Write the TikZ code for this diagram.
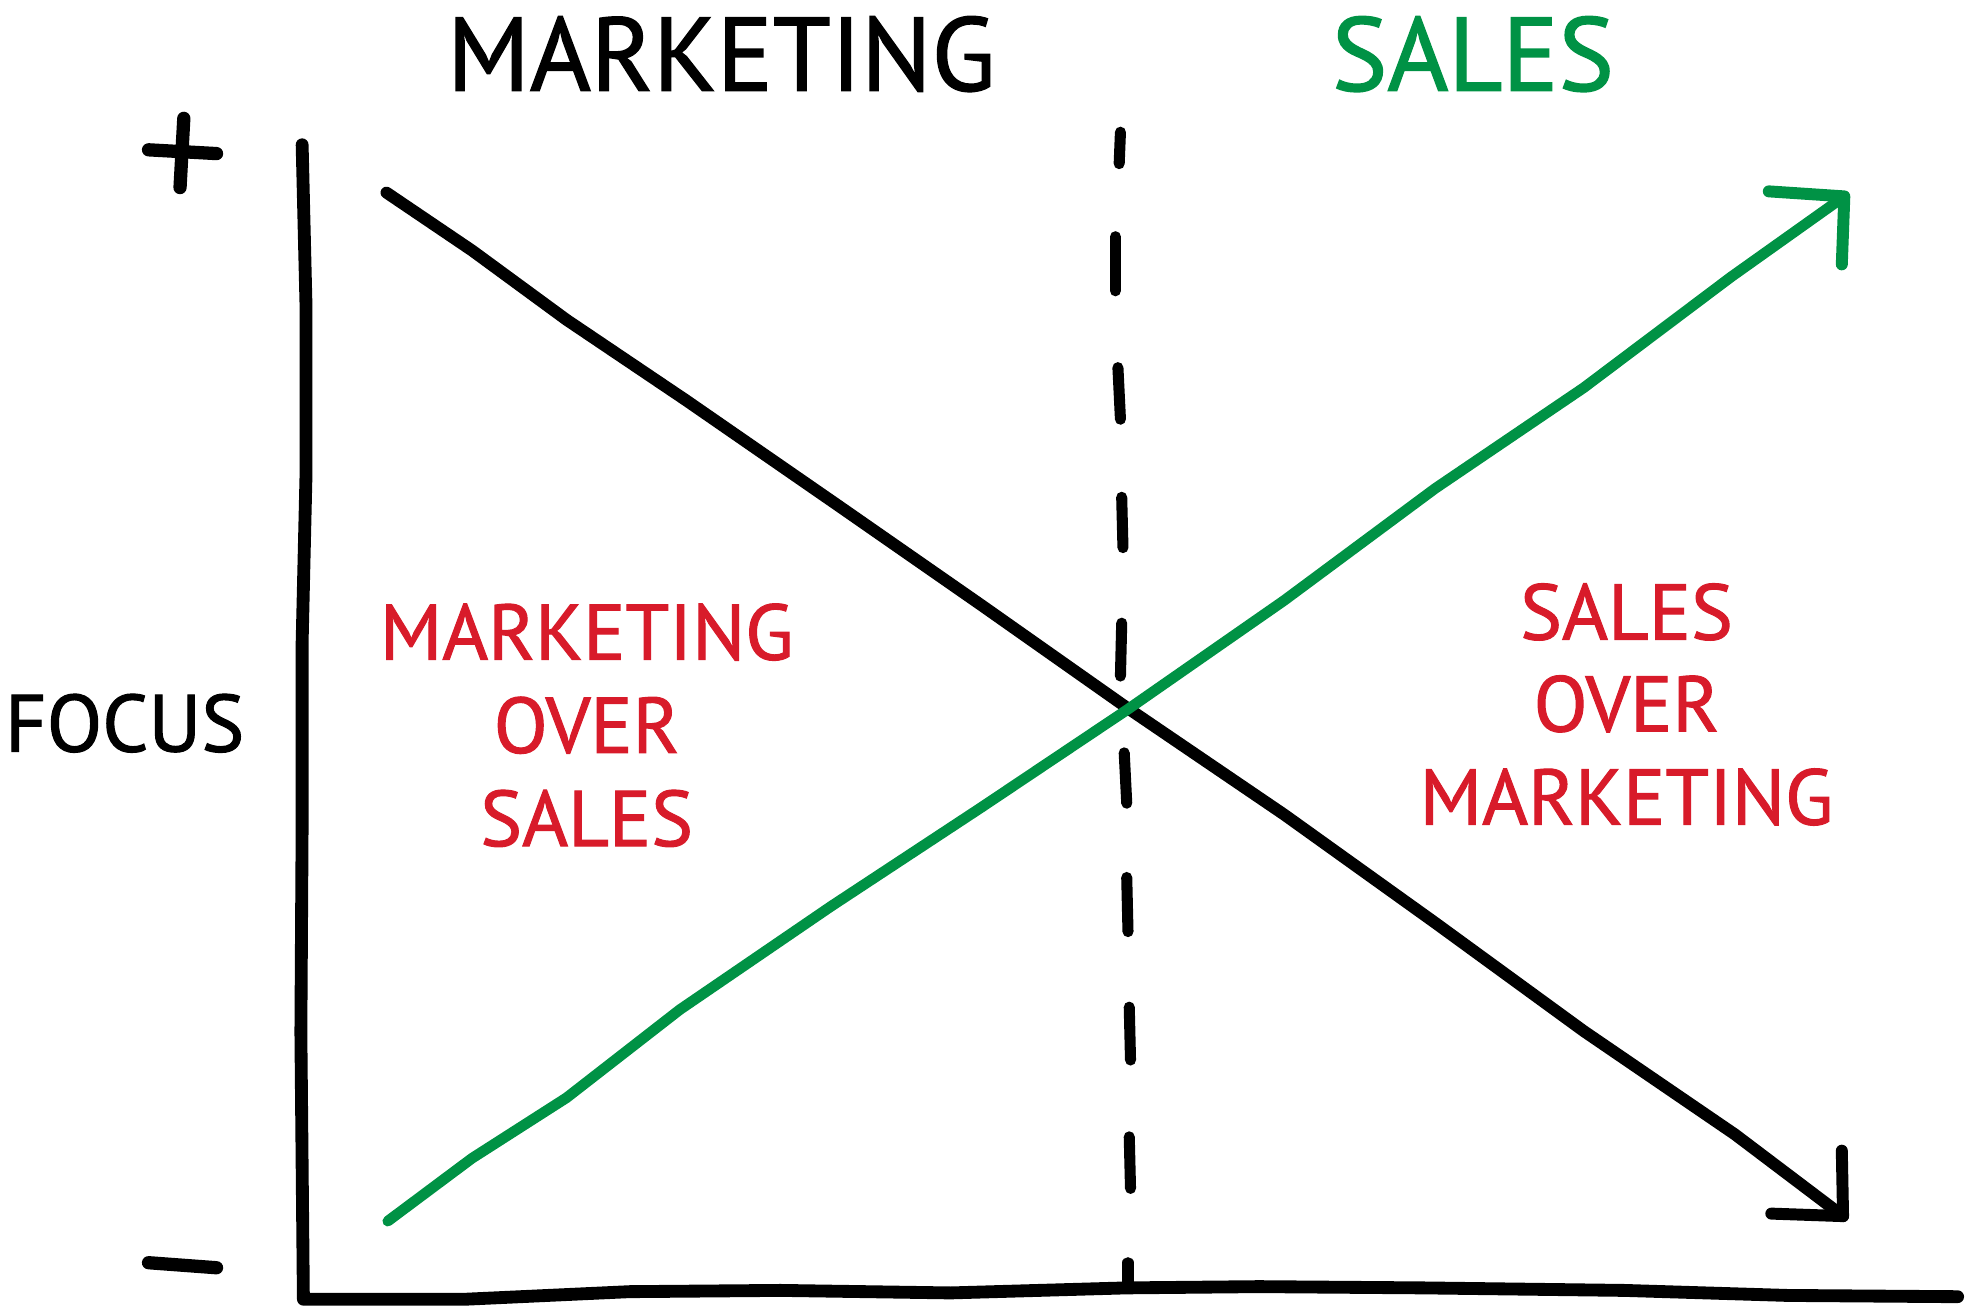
\documentclass[tikz,border=0pt]{standalone}
\usepackage{fontspec}
\setmainfont{PT Sans}[FakeBold=1.3]
\definecolor{sgreen}{RGB}{0,146,69}
\definecolor{sred}{RGB}{216,27,42}
\begin{document}
\begin{tikzpicture}[x=0.01cm,y=-0.01cm,
  stroke/.style={line width=2.7pt,line cap=round,line join=round},
  title/.style={font=\fontsize{23.6}{26}\selectfont,anchor=base,inner sep=0pt},
  axislabel/.style={font=\fontsize{18.3}{20}\selectfont,anchor=base,inner sep=0pt},
  redlabel/.style={font=\fontsize{17.8}{20}\selectfont,anchor=base,inner sep=0pt,text=sred,align=center}]
\useasboundingbox (0,0) rectangle (1568,1039);
% titles
\node[title] (tmkt) at (573,72) {MARKETING};
\node[title,text=sgreen] (tsales) at (1170,72) {SALES};
\node[axislabel] (focus) at (99,597) {FOCUS};
% red labels
\node[redlabel] (l1) at (466,524) {MARKETING};
\node[redlabel] (l2) at (466,598) {OVER};
\node[redlabel] (l3) at (466,672) {SALES};
\node[redlabel] (r1) at (1292,508) {SALES};
\node[redlabel] (r2) at (1292,581) {OVER};
\node[redlabel] (r3) at (1292,655) {MARKETING};
% plus and minus
\draw[stroke,line width=3pt] (118,119) -- (172,122);
\draw[stroke,line width=3pt] (146,94) -- (143,149);
\draw[stroke,line width=3pt] (118,1003) -- (172,1007);
% axes
\draw[stroke,line width=2.9pt] (240,115) -- (243,240) -- (243,380) -- (240,510) -- (240,655) -- (239,820) -- (241,1032)
  -- (370,1032) -- (500,1026) -- (620,1025) -- (755,1027) -- (895,1023) -- (1000,1022) -- (1130,1023) -- (1290,1025) -- (1420,1029) -- (1555,1030);
% dashed separator
\foreach \a/\b/\c/\d in {890/105/889/130, 886/188/886/231, 888/292/890/333, 891/395/892/435, 891/495/890/537, 893/598/895/638, 895/697/896/740, 897/800/898/842, 897/903/898/944, 896/1003/896/1022}
  \draw[stroke,line width=2.5pt] (\a,\b) -- (\c,\d);
% black descending line
\coordinate (bs) at (307,153);
\coordinate (be) at (1464,966);
\draw[stroke] (bs) -- (375,199) -- (450,254) -- (545,318) -- (665,401) -- (780,481) -- (895,562) -- (1020,647) -- (1140,733) -- (1258,819) -- (1378,901) -- (be);
\draw[stroke] (1463,914) -- (be) -- (1407,964);
% green ascending line
\coordinate (gs) at (308,970);
\coordinate (ge) at (1465,156);
\draw[stroke,sgreen,line width=2.4pt] (gs) -- (375,920) -- (450,872) -- (540,802) -- (660,720) -- (780,641) -- (895,564) -- (1020,477) -- (1140,388) -- (1258,308) -- (1375,220) -- (ge);
\draw[stroke,sgreen,line width=2.7pt] (1405,152) -- (ge) -- (1463,210);
\end{tikzpicture}
\end{document}
